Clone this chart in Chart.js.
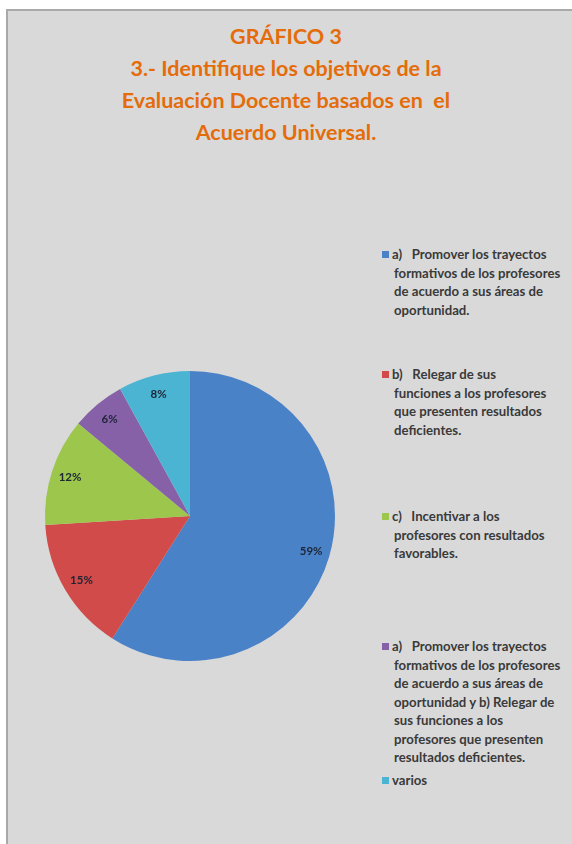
<!DOCTYPE html>
<html>
<head>
<meta charset="utf-8">
<script src="https://cdn.jsdelivr.net/npm/chart.js@4"></script>
<style>
    html, body { margin: 0; padding: 0; background: #ffffff; overflow: hidden; }
    #panel {
        position: absolute; left: 6px; top: 9px; width: 566px; height: 835px;
        background: #d9d9d9; border-left: 2px solid #a9a9a9; border-top: 2px solid #a9a9a9;
        box-sizing: border-box;
    }
    #title {
        position: absolute; left: 0; top: 20px; width: 572px; text-align: center;
        font-family: Lato, "Open Sans", sans-serif; font-weight: bold; font-size: 21.5px;
        line-height: 32px; color: #e46c0a;
    }
    #pieBox { position: absolute; left: 40px; top: 366px; width: 300px; height: 300px; }
    #legend {
        position: absolute; left: 382px; top: 0; width: 190px;
        font-family: Lato, "Open Sans", sans-serif; font-weight: bold; font-size: 13.2px;
        color: #3a3a3a; line-height: 18.5px;
    }
    .item { position: absolute; left: 0; white-space: nowrap; }
    .box { display: inline-block; width: 7px; height: 7px; margin-right: 3px; vertical-align: 1px; }
</style>
</head>
<body>
<div id="panel"></div>
<div id="title">GRÁFICO 3<br>3.- Identifique los objetivos de la<br>Evaluación Docente basados en&nbsp; el<br>Acuerdo Universal.</div>
<div id="pieBox"><canvas id="pieChart"></canvas></div>
<div id="legend"></div>
<script>
// --- Datos ---
const categories = [
    ["a)    Promover los trayectos", "formativos de los profesores", "de acuerdo a sus áreas de", "oportunidad."],
    ["b)    Relegar de sus", "funciones a los profesores", "que presenten resultados", "deficientes."],
    ["c)    Incentivar a los", "profesores con resultados", "favorables."],
    ["a)    Promover los trayectos", "formativos de los profesores", "de acuerdo a sus áreas de", "oportunidad y b) Relegar de", "sus funciones a los", "profesores que presenten", "resultados deficientes."],
    ["varios"]
];
const percentages = [59, 15, 12, 6, 8];
const sliceColors = ['#4a82c8', '#d04b4a', '#9dc64c', '#8761a8', '#4bb4d2'];

// posición vertical de cada entrada de la leyenda
const legendTops = [245, 365, 507, 637, 771];

// --- Etiquetas de porcentaje sobre cada porción ---
const pctLabels = {
    id: 'pctLabels',
    afterDatasetsDraw(chart) {
        const ctx = chart.ctx;
        const meta = chart.getDatasetMeta(0);
        ctx.save();
        ctx.font = 'bold 11.5px Lato, "Open Sans", sans-serif';
        ctx.fillStyle = '#1e2535';
        ctx.textAlign = 'center';
        ctx.textBaseline = 'middle';
        meta.data.forEach((arc, i) => {
            const p = arc.getProps(['x', 'y', 'startAngle', 'endAngle', 'outerRadius'], true);
            const mid = (p.startAngle + p.endAngle) / 2;
            const r = p.outerRadius * 0.87;
            ctx.fillText(percentages[i] + '%', p.x + Math.cos(mid) * r, p.y + Math.sin(mid) * r);
        });
        ctx.restore();
    }
};

const pieChart = new Chart(document.getElementById('pieChart'), {
    type: 'pie',
    data: {
        labels: categories,
        datasets: [{
            data: percentages,
            backgroundColor: sliceColors,
            borderWidth: 0
        }]
    },
    options: {
        responsive: true,
        maintainAspectRatio: false,
        animation: false,
        layout: { padding: 5 },
        plugins: {
            legend: { display: false },
            tooltip: { enabled: false }
        }
    },
    plugins: [pctLabels]
});

// --- Leyenda en HTML ---
const legendEl = document.getElementById('legend');
pieChart.data.labels.forEach((lines, i) => {
    const div = document.createElement('div');
    div.className = 'item';
    div.style.top = legendTops[i] + 'px';
    const box = '<span class="box" style="background:' + sliceColors[i] + '"></span>';
    div.innerHTML = box + lines.map(l => l.replace(/ {2,}/g, m => '&nbsp;'.repeat(m.length - 1))).join('<br><span style="display:inline-block;width:12px"></span>');
    legendEl.appendChild(div);
});
</script>
</body>
</html>
